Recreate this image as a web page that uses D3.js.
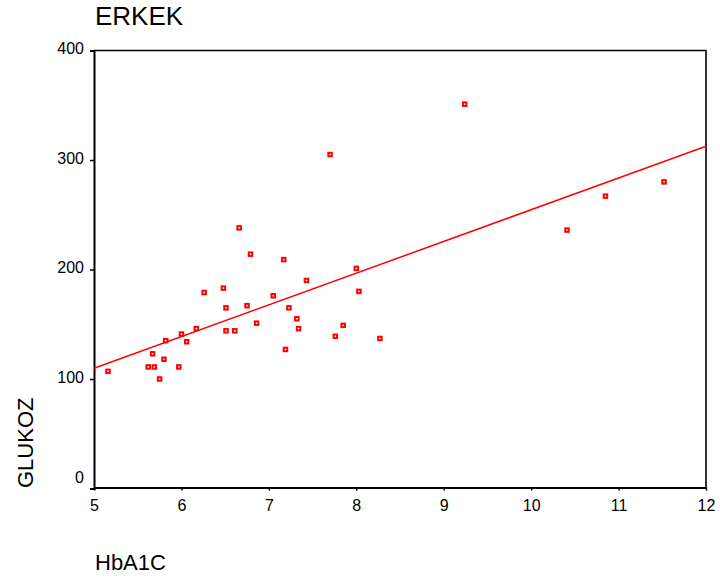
<!DOCTYPE html>
<html>
<head>
<meta charset="utf-8">
<script src="https://cdn.jsdelivr.net/npm/d3@7"></script>
<style>
  body { margin: 0; background: #fff; }
  svg { display: block; font-family: "Liberation Sans", Arial, sans-serif; }
</style>
</head>
<body>
<div class="chart-wrapper"></div>
<script>
// HbA1C values (x) and GLUKOZ values (y)
const hba1c = [5.16, 5.62, 5.69, 5.67, 5.75, 5.80, 5.82, 5.97, 6.06, 6.00,
  6.17, 6.26, 6.48, 6.51, 6.51, 6.61, 6.66, 6.79, 6.75, 6.86,
  7.05, 7.17, 7.19, 7.23, 7.32, 7.34, 7.43, 7.70, 9.24, 8.00,
  8.03, 7.85, 7.76, 8.27, 10.41, 10.85, 11.52]
const glukoz = [107, 111, 111, 123, 100, 118, 135, 111, 134, 141,
  146, 179, 183, 165, 144, 144, 238, 214, 167, 151,
  176, 209, 127, 165, 155, 146, 190, 305, 351, 201,
  180, 149, 139, 137, 236, 267, 280]

const xTicks = [5, 6, 7, 8, 9, 10, 11, 12]
const yTicks = [0, 100, 200, 300, 400]

const width = 720
const height = 585
const margin = {top: 50.5, right: 14, bottom: 97, left: 94}

const svg = d3.select('.chart-wrapper')
  .append('svg')
  .attr('width', width)
  .attr('height', height)

let x = d3.scaleLinear().domain([5, 12]).range([margin.left, width - margin.right])
let y = d3.scaleLinear().domain([0, 400]).range([height - margin.bottom + 0.5, margin.top])

const data = hba1c.map((v, i) => ({x: v, y: glukoz[i]}))

// least squares fit line
const mx = d3.mean(data, d => d.x)
const my = d3.mean(data, d => d.y)
const slope = d3.sum(data, d => (d.x - mx) * (d.y - my)) / d3.sum(data, d => (d.x - mx) ** 2)
const intercept = my - slope * mx

// frame (top and right)
svg.append('path')
  .attr('d', `M${x(5)},${y(400)}H${x(12)}V${y(0)}`)
  .style('fill', 'none')
  .style('stroke', '#000')
  .style('stroke-width', 1.6)

const yaxis = svg.append('g')
  .attr('class', 'y axis')
  .attr('transform', `translate(${x(5)},0)`)
  .call(d3.axisLeft(y).tickValues(yTicks).tickFormat(d3.format('d')).tickSize(4).tickPadding(6))
yaxis.select('.domain').style('stroke-width', 2)
yaxis.selectAll('.tick line').style('stroke-width', 1.5)
yaxis.selectAll('text')
  .style('font-size', '16px')
  .attr('dy', d => d === 0 ? '-0.35em' : '0.2em')

const xaxis = svg.append('g')
  .attr('class', 'x axis')
  .attr('transform', `translate(0,${y(0) - 1})`)
  .call(d3.axisBottom(x).tickValues(xTicks).tickFormat(d3.format('d')).tickSize(3).tickSizeOuter(0).tickPadding(9))
xaxis.select('.domain').style('stroke-width', 2)
xaxis.selectAll('.tick line').style('stroke-width', 1.5)
xaxis.selectAll('text').style('font-size', '16px')

// fit line
svg.append('line')
  .attr('x1', x(5)).attr('y1', y(intercept + slope * 5))
  .attr('x2', x(12)).attr('y2', y(intercept + slope * 12))
  .style('stroke', 'red')
  .style('stroke-width', 1.5)

svg.append('g').selectAll('rect')
  .data(data)
  .enter()
  .append('rect')
  .attr('x', d => x(d.x) - 1.75)
  .attr('y', d => y(d.y) - 1.75)
  .attr('width', 3.5)
  .attr('height', 3.5)
  .style('fill', '#fff')
  .style('stroke', 'red')
  .style('stroke-width', 2)

svg.append('text')
  .attr('x', 95)
  .attr('y', 25)
  .style('font-size', '26px')
  .text('ERKEK')

svg.append('text')
  .attr('transform', 'translate(33,488) rotate(-90)')
  .style('font-size', '22px')
  .text('GLUKOZ')

svg.append('text')
  .attr('x', 95)
  .attr('y', 570)
  .style('font-size', '22px')
  .text('HbA1C')
</script>
</body>
</html>
